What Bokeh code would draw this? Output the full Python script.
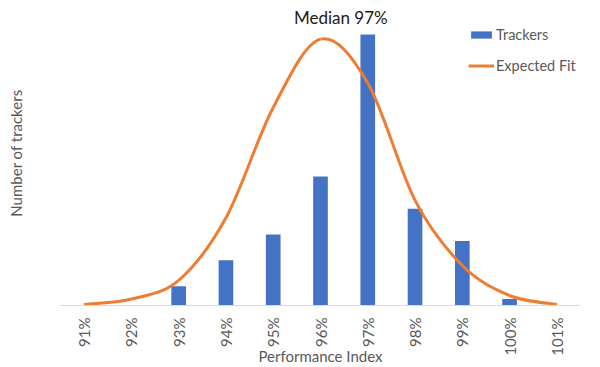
import math
from bokeh.plotting import figure
from bokeh.models import Range1d, FixedTicker, Label, Legend, LegendItem
from bokeh.embed import file_html
from bokeh.resources import INLINE

categories = ["91%", "92%", "93%", "94%", "95%", "96%", "97%", "98%", "99%", "100%", "101%"]
trackers = [0, 0, 3, 7, 11, 20, 42, 15, 10, 1, 0]
expected_fit = [0.15, 1.0, 3.9, 13.6, 30.7, 41.3, 34.5, 16.3, 6.2, 1.55, 0.15]
title_text = "Median 97%"
x_title = "Performance Index"
y_title = "Number of trackers"

FONT = "Lato"
TXT = "#595959"
BLUE = "#4472C4"
ORANGE = "#ED7D31"

idx = list(range(len(categories)))

p = figure(width=592, height=367, output_backend="svg", toolbar_location=None,
           x_range=Range1d(-0.5, len(categories) - 0.5), y_range=Range1d(0, 47.29),
           min_border_left=60, min_border_right=12, min_border_top=0, min_border_bottom=62)
p.outline_line_color = None
p.xgrid.visible = False
p.ygrid.visible = False

ax = p.xaxis[0]
ax.ticker = FixedTicker(ticks=idx)
ax.major_label_overrides = {i: c for i, c in zip(idx, categories)}
ax.major_label_orientation = math.pi / 2
ax.axis_line_color = "#D9D9D9"
ax.axis_line_width = 1
ax.major_tick_line_color = None
ax.minor_tick_line_color = None
ax.major_tick_out = 0
ax.major_label_standoff = 12
ax.major_label_text_font = FONT
ax.major_label_text_font_size = "15px"
ax.major_label_text_color = TXT
ax.axis_label = x_title
ax.axis_label_standoff = -12
ax.axis_label_text_font = FONT
ax.axis_label_text_font_size = "15px"
ax.axis_label_text_font_style = "normal"
ax.axis_label_text_color = TXT

ay = p.yaxis[0]
ay.ticker = FixedTicker(ticks=[])
ay.axis_line_color = None
ay.major_tick_line_color = None
ay.minor_tick_line_color = None
ay.major_tick_in = 0
ay.major_tick_out = 0
ay.major_label_standoff = 0
ay.major_label_text_font_size = "0px"
ay.axis_label = y_title
ay.axis_label_standoff = 36
ay.axis_label_text_font = FONT
ay.axis_label_text_font_size = "15px"
ay.axis_label_text_font_style = "normal"
ay.axis_label_text_color = TXT

bars = p.vbar(x=idx, top=trackers, width=0.31, bottom=0, fill_color=BLUE, line_color=None)

# smooth curve (Excel-like smoothing) through the data points
n = len(expected_fit)
px = idx
py = expected_fit
x0s, y0s, x1s, y1s, cx0s, cy0s, cx1s, cy1s = [], [], [], [], [], [], [], []
for i in range(n - 1):
    im1 = max(i - 1, 0)
    ip2 = min(i + 2, n - 1)
    x0s.append(px[i]); y0s.append(py[i])
    x1s.append(px[i + 1]); y1s.append(py[i + 1])
    cx0s.append(px[i] + (px[i + 1] - px[im1]) / 6)
    cy0s.append(py[i] + (py[i + 1] - py[im1]) / 6)
    cx1s.append(px[i + 1] - (px[ip2] - px[i]) / 6)
    cy1s.append(py[i + 1] - (py[ip2] - py[i]) / 6)
curve = p.bezier(x0=x0s, y0=y0s, x1=x1s, y1=y1s, cx0=cx0s, cy0=cy0s, cx1=cx1s, cy1=cy1s,
                 line_color=ORANGE, line_width=3)

legend = Legend(items=[LegendItem(label="Trackers", renderers=[bars]),
                       LegendItem(label="Expected Fit", renderers=[curve])],
                location=(408, 231), orientation="vertical",
                glyph_width=26, glyph_height=9, label_standoff=2, spacing=14,
                padding=0, margin=0, border_line_color=None, background_fill_alpha=0,
                label_text_font=FONT, label_text_font_size="14.5px", label_text_color=TXT)
p.add_layout(legend)

p.add_layout(Label(x=5.43, y=44.65, text=title_text, text_align="center", text_baseline="middle",
                   text_font=FONT, text_font_size="17px", text_color="#1a1a1a"))

open("out.html", "w").write(file_html(p, INLINE))
